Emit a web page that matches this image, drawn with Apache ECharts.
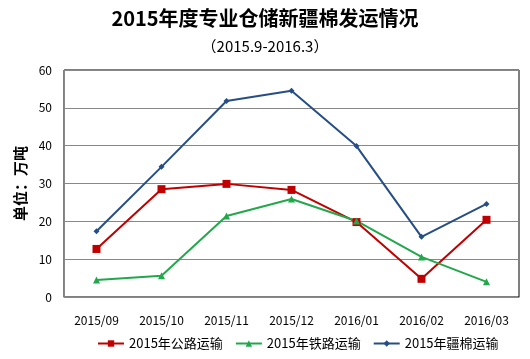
<!DOCTYPE html>
<html><head><meta charset="utf-8">
<script src="https://cdn.jsdelivr.net/npm/echarts@6/dist/echarts.min.js"></script>
<style>html,body{margin:0;padding:0;background:#fff}#c{width:530px;height:359px}</style>
</head><body><div id="c"></div>
<script>
const categories = ['2015/09','2015/10','2015/11','2015/12','2016/01','2016/02','2016/03'];
const roadValues = [12.7, 28.5, 29.9, 28.3, 19.8, 4.8, 20.4];
const railValues = [4.5, 5.6, 21.4, 25.9, 20.1, 10.6, 4.0];
const xjValues = [17.4, 34.4, 51.8, 54.5, 39.9, 15.9, 24.6];
const yTicks = [0, 10, 20, 30, 40, 50, 60];
const seriesNames = ['2015年公路运输', '2015年铁路运输', '2015年疆棉运输'];

const F = '"Noto Sans CJK SC", "Noto Sans", sans-serif';
const chart = echarts.init(document.getElementById('c'));
chart.setOption({
  backgroundColor: '#fff',
  animation: false,
  title: [
    {text: '2015年度专业仓储新疆棉发运情况', left: 'center', top: 3,
     textStyle: {fontFamily: F, fontSize: 20, fontWeight: 'bold', color: '#000'}},
    {text: '（2015.9-2016.3）', left: 'center', top: 34,
     textStyle: {fontFamily: F, fontSize: 15, fontWeight: 'normal', color: '#000'}}
  ],
  legend: {
    bottom: 4, left: 92, itemWidth: 26, itemHeight: 8, itemGap: 12,
    textStyle: {fontFamily: F, fontSize: 13, color: '#000'},
    data: seriesNames
  },
  grid: {left: 64, right: 11, top: 70, bottom: 62, show: true, borderColor: '#000', borderWidth: 1},
  xAxis: {
    type: 'category', data: categories, boundaryGap: true,
    axisLine: {lineStyle: {color: '#888'}}, axisTick: {show: false},
    axisLabel: {fontFamily: F, fontSize: 12, color: '#000', margin: 17}
  },
  yAxis: {
    type: 'value', min: yTicks[0], max: yTicks[yTicks.length - 1], interval: 10,
    name: '单位：万吨', nameLocation: 'middle', nameRotate: 90, nameGap: 34,
    nameTextStyle: {fontFamily: F, fontSize: 15, fontWeight: 'bold', color: '#000'},
    axisLine: {show: true, lineStyle: {color: '#888'}}, axisTick: {show: false},
    splitLine: {lineStyle: {color: '#888'}},
    axisLabel: {fontFamily: F, fontSize: 12, color: '#000', margin: 12}
  },
  series: [
    {name: seriesNames[0], type: 'line', data: roadValues, symbol: 'rect', symbolSize: 8,
     itemStyle: {color: '#C00000'}, lineStyle: {width: 2, color: '#C00000'}},
    {name: seriesNames[1], type: 'line', data: railValues, symbol: 'triangle', symbolSize: 7,
     itemStyle: {color: '#22A84C'}, lineStyle: {width: 2, color: '#22A84C'}},
    {name: seriesNames[2], type: 'line', data: xjValues, symbol: 'diamond', symbolSize: 6,
     itemStyle: {color: '#264E86'}, lineStyle: {width: 2, color: '#264E86'}}
  ]
});
</script></body></html>
